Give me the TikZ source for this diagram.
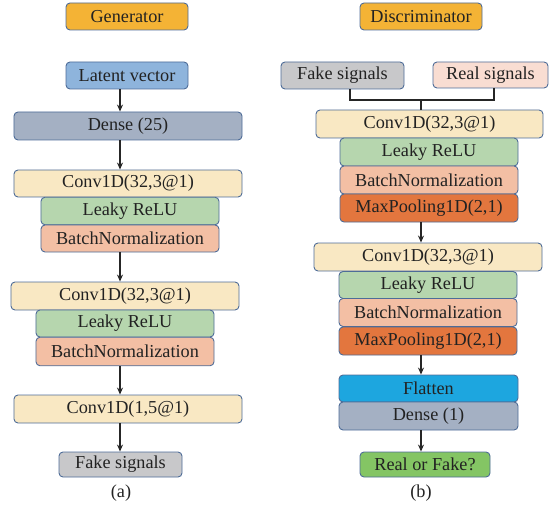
\documentclass[tikz,border=0pt]{standalone}
\usepackage{fontspec}
\setmainfont{Liberation Serif}
\usetikzlibrary{arrows.meta}

\definecolor{edgeblue}{HTML}{4E6C98}
\definecolor{titleorange}{HTML}{F4B335}
\definecolor{latentblue}{HTML}{8EB4DC}
\definecolor{densegray}{HTML}{A4B0C3}
\definecolor{convcream}{HTML}{F9E8C3}
\definecolor{reluGreen}{HTML}{B6D6AE}
\definecolor{bnsalmon}{HTML}{F3BFA4}
\definecolor{fakegray}{HTML}{C8C8CA}
\definecolor{realpink}{HTML}{F9DDD2}
\definecolor{poolorange}{HTML}{E3763E}
\definecolor{flattenblue}{HTML}{1DA6DF}
\definecolor{outgreen}{HTML}{84C564}
\definecolor{txt}{HTML}{222222}

\tikzset{
  blk/.style={draw=edgeblue, line width=0.9bp, rounded corners=4bp, inner sep=0pt,
              text=txt, font=\fontsize{18.3}{20}\selectfont},
  flow/.style={draw=black!85, line width=1.1bp, -{Stealth[length=7bp,width=6bp]}},
  joint/.style={draw=black!85, line width=1.1bp},
  sublabel/.style={text=txt, font=\fontsize{18.3}{20}\selectfont}
}

\newcommand{\blk}[7]{% name, x, y, width, height, fill, text
  \node[blk, fill=#6, minimum width=#4bp, minimum height=#5bp] (#1) at (#2,#3) {#7};}

\begin{document}
\begin{tikzpicture}[x=1bp, y=-1bp]
\useasboundingbox (0,0) rectangle (549,510);

% ---------------- Generator ----------------
\blk{gen}{127}{16.5}{122}{27}{titleorange}{Generator}
\blk{latent}{127}{75.5}{122}{27}{latentblue}{Latent vector}
\blk{gdense}{128}{126}{228}{28}{densegray}{Dense (25)}
\blk{gconvA}{128}{183.5}{228}{27}{convcream}{Conv1D(32,3@1)}
\blk{greluA}{130}{211}{178}{27.5}{reluGreen}{Leaky ReLU}
\blk{gbnA}{130}{238.5}{178}{27}{bnsalmon}{BatchNormalization}
\blk{gconvB}{125}{296}{228}{28}{convcream}{Conv1D(32,3@1)}
\blk{greluB}{125}{323.5}{178}{27}{reluGreen}{Leaky ReLU}
\blk{gbnB}{125}{351.5}{178}{28.5}{bnsalmon}{BatchNormalization}
\blk{gconvC}{128}{409}{228}{28}{convcream}{Conv1D(1,5@1)}
\blk{gfake}{120.5}{464.5}{123}{25}{fakegray}{Fake signals}
\node[sublabel] (capa) at (121,493) {(a)};

\coordinate (gx) at (120,0);
\draw[flow] (latent.south -| gx) -- (gdense.north -| gx);
\draw[flow] (gdense.south -| gx) -- (gconvA.north -| gx);
\draw[flow] (gbnA.south -| gx) -- (gconvB.north -| gx);
\draw[flow] (gbnB.south -| gx) -- (gconvC.north -| gx);
\draw[flow] (gconvC.south -| gx) -- (gfake.north -| gx);

% ---------------- Discriminator ----------------
\blk{disc}{421}{16.5}{122}{27}{titleorange}{Discriminator}
\blk{dfake}{342.5}{75.5}{123}{27}{fakegray}{Fake signals}
\blk{dreal}{490.5}{75}{115}{26}{realpink}{Real signals}
\blk{dconvA}{429.5}{124}{227}{28}{convcream}{Conv1D(32,3@1)}
\blk{dreluA}{429}{152}{178}{28}{reluGreen}{Leaky ReLU}
\blk{dbnA}{429}{180}{178}{28}{bnsalmon}{BatchNormalization}
\blk{dpoolA}{429}{208}{178}{28}{poolorange}{MaxPooling1D(2,1)}
\blk{dconvB}{428}{257}{228}{28}{convcream}{Conv1D(32,3@1)}
\blk{dreluB}{428}{285}{178}{27}{reluGreen}{Leaky ReLU}
\blk{dbnB}{428}{312.5}{178}{28}{bnsalmon}{BatchNormalization}
\blk{dpoolB}{428}{341}{178}{28}{poolorange}{MaxPooling1D(2,1)}
\blk{flat}{428.5}{388.5}{179}{27}{flattenblue}{Flatten}
\blk{ddense}{428.5}{416}{179}{28}{densegray}{Dense (1)}
\blk{verdict}{425}{464.5}{130}{25}{outgreen}{Real or Fake?}
\node[sublabel] (capb) at (421,493) {(b)};

% merge of the two inputs
\coordinate (fx) at (350,0);
\coordinate (rx) at (494,0);
\coordinate (dx) at (421,0);
\coordinate (my) at (0,100);
\draw[joint] (dfake.south -| fx) -- (fx |- my) -- (rx |- my) -- (dreal.south -| rx);
\draw[joint] (dx |- my) -- (dconvA.north -| dx);

\draw[flow] (dpoolA.south -| dx) -- (dconvB.north -| dx);
\draw[flow] (dpoolB.south -| dx) -- (flat.north -| dx);
\draw[flow] (ddense.south -| dx) -- (verdict.north -| dx);
\end{tikzpicture}
\end{document}
